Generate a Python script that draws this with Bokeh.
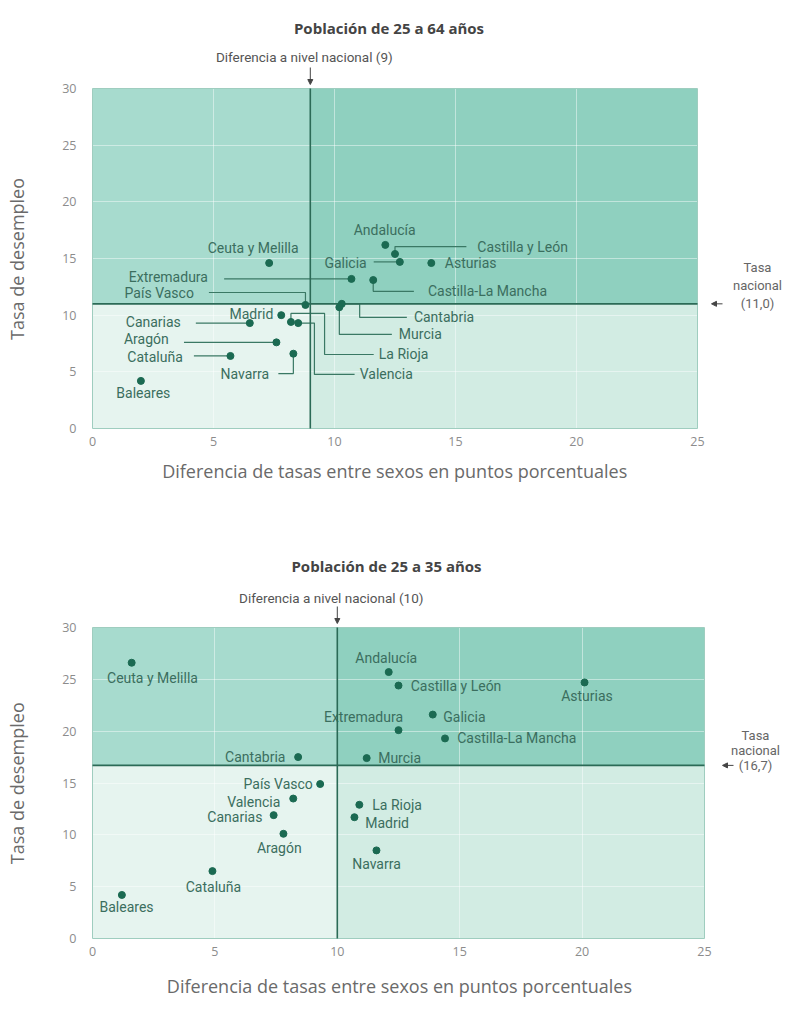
from bokeh.plotting import figure
from bokeh.models import Label, Arrow, NormalHead, ColumnDataSource
from bokeh.layouts import column
from bokeh.embed import file_html
from bokeh.resources import INLINE
from bokeh.core.properties import value

# ---------------- data ----------------
regions = ["Andalucía", "Castilla y León", "Galicia", "Asturias", "Castilla-La Mancha",
           "Extremadura", "Ceuta y Melilla", "País Vasco", "Cantabria", "Murcia",
           "Madrid", "La Rioja", "Valencia", "Canarias", "Aragón", "Cataluña",
           "Navarra", "Baleares"]

# Población de 25 a 64 años
gap_25_64 = [12.1, 12.5, 12.7, 14.0, 11.6, 10.7, 7.3, 8.8, 10.3, 10.2,
             7.8, 8.2, 8.5, 6.5, 7.6, 5.7, 8.3, 2.0]
rate_25_64 = [16.2, 15.4, 14.7, 14.6, 13.1, 13.2, 14.6, 10.9, 11.0, 10.7,
              10.0, 9.4, 9.3, 9.3, 7.6, 6.4, 6.6, 4.2]
nat_gap_25_64 = 9
nat_rate_25_64 = 11.0

# Población de 25 a 35 años
gap_25_35 = [12.1, 12.5, 13.9, 20.1, 14.4, 12.5, 1.6, 9.3, 8.4, 11.2,
             10.7, 10.9, 8.2, 7.4, 7.8, 4.9, 11.6, 1.2]
rate_25_35 = [25.7, 24.4, 21.6, 24.7, 19.3, 20.1, 26.6, 14.9, 17.5, 17.4,
              11.7, 12.9, 13.5, 11.9, 10.1, 6.5, 8.5, 4.2]
nat_gap_25_35 = 10
nat_rate_25_35 = 16.7

titles = ["Población de 25 a 64 años", "Población de 25 a 35 años"]
gap_notes = ["Diferencia a nivel nacional (9)", "Diferencia a nivel nacional (10)"]
rate_notes = [["Tasa", "nacional", "(11,0)"], ["Tasa", "nacional", "(16,7)"]]
x_ticks = [0, 5, 10, 15, 20, 25]
y_ticks = [0, 5, 10, 15, 20, 25, 30]
x_label = "Diferencia de tasas entre sexos en puntos porcentuales"
y_label = "Tasa de desempleo"

# ---------------- label layout (data units; None = same as the point) ----------------
layout_25_64 = {
    "Andalucía": (12.07, 17.5, "center", []),
    "Castilla y León": (15.9, 16.05, "left", [(None, 16.05), (15.45, 16.05)]),
    "Galicia": (11.33, 14.6, "right", [(11.62, None)]),
    "Asturias": (14.56, 14.6, "left", []),
    "Castilla-La Mancha": (13.86, 12.1, "left", [(None, 12.1), (13.28, 12.1)]),
    "Extremadura": (4.77, 13.4, "right", [(5.44, None)]),
    "Ceuta y Melilla": (6.64, 15.9, "center", []),
    "País Vasco": (4.19, 11.95, "right", [(None, 12.0), (4.81, 12.0)]),
    "Cantabria": (13.28, 9.8, "left", [(11.04, None), (11.04, 9.8), (12.99, 9.8)]),
    "Murcia": (12.66, 8.3, "left", [(None, 8.3), (12.37, 8.3)]),
    "Madrid": (7.47, 10.06, "right", []),
    "La Rioja": (11.83, 6.53, "left", [(None, 10.15), (9.59, 10.15), (9.59, 6.53), (11.62, 6.53)]),
    "Valencia": (11.04, 4.77, "left", [(9.17, None), (9.17, 4.77), (10.83, 4.77)]),
    "Canarias": (3.65, 9.36, "right", [(4.27, None)]),
    "Aragón": (3.15, 7.86, "right", [(3.78, None)]),
    "Cataluña": (3.73, 6.27, "right", [(4.19, None)]),
    "Navarra": (7.3, 4.85, "right", [(None, 4.85), (7.68, 4.85)]),
    "Baleares": (2.1, 3.1, "center", []),
}
layout_25_35 = {
    "Andalucía": (12.0, 27.1, "center", []),
    "Castilla y León": (13.0, 24.4, "left", []),
    "Galicia": (14.33, 21.4, "left", []),
    "Asturias": (20.2, 23.4, "center", []),
    "Castilla-La Mancha": (14.9, 19.3, "left", []),
    "Extremadura": (11.07, 21.4, "center", []),
    "Ceuta y Melilla": (2.45, 25.1, "center", []),
    "País Vasco": (9.0, 14.9, "right", []),
    "Cantabria": (7.88, 17.55, "right", []),
    "Murcia": (11.67, 17.4, "left", []),
    "Madrid": (11.14, 11.1, "left", []),
    "La Rioja": (11.43, 12.9, "left", []),
    "Valencia": (7.67, 13.2, "right", []),
    "Canarias": (6.94, 11.7, "right", []),
    "Aragón": (7.63, 8.7, "center", []),
    "Cataluña": (4.94, 5.0, "center", []),
    "Navarra": (11.6, 7.2, "center", []),
    "Baleares": (1.39, 3.0, "center", []),
}

FONT = "Open Sans"
LBL_FONT = "Roboto"
Q_COLORS = ["#a7dbce", "#8fd0bf", "#e6f4ef", "#d2ece3"]  # TL, TR, BL, BR
LINE = "#2b6a56"
DOT = "#1b6a52"
TXT = "#3b6e5e"
W = 790
B_LEFT = 92
AXIS_PX = 18
NBSP_W = 0.26 * AXIS_PX   # advance of a no-break space in Open Sans


def centred(text, shift_px):
    # pad with no-break spaces so the visible text is centred on the plot box
    n = int(round(2 * shift_px / NBSP_W))
    return text + "\u00a0" * n


def make_chart(title, gaps, rates, nat_gap, nat_rate, gap_note, rate_note, layout,
               height, box_w, box_top, box_h, xlab_standoff, offs):
    xmin, xmax = x_ticks[0], x_ticks[-1]
    ymin, ymax = y_ticks[0], y_ticks[-1]
    fw = W - B_LEFT
    fh = box_top + box_h
    ppx = box_w / (xmax - xmin)
    ppy = box_h / (ymax - ymin)
    p = figure(width=W, height=height,
               x_range=(xmin, xmin + fw / ppx), y_range=(ymin, ymin + fh / ppy),
               output_backend="svg", toolbar_location=None,
               min_border_left=B_LEFT, min_border_right=0,
               min_border_top=0, min_border_bottom=height - fh,
               background_fill_color="white", border_fill_color="white")
    p.outline_line_color = None

    # quadrants
    p.quad(left=[xmin, nat_gap, xmin, nat_gap], right=[nat_gap, xmax, nat_gap, xmax],
           bottom=[nat_rate, nat_rate, ymin, ymin], top=[ymax, ymax, nat_rate, nat_rate],
           fill_color=Q_COLORS, line_color=None, level="underlay")

    # axes / grid
    p.xaxis.ticker = x_ticks
    p.yaxis.ticker = y_ticks
    p.xaxis.bounds = (xmin, xmax)
    p.yaxis.bounds = (ymin, ymax)
    p.xgrid.ticker = x_ticks
    p.ygrid.ticker = y_ticks
    p.grid.grid_line_color = "white"
    p.grid.grid_line_alpha = 0.45
    p.grid.level = "glyph"
    for ax in (p.xaxis, p.yaxis):
        ax.axis_line_color = None
        ax.major_tick_line_color = None
        ax.minor_tick_line_color = None
        ax.major_label_text_font = FONT
        ax.major_label_text_font_size = "12.5px"
        ax.major_label_text_color = "#8c8c8c"
        ax.axis_label_text_font = FONT
        ax.axis_label_text_font_size = f"{AXIS_PX}px"
        ax.axis_label_text_font_style = "normal"
        ax.axis_label_text_color = "#6a6a6a"
    p.xaxis.axis_label = centred(x_label, (fw - box_w) / 2)
    p.yaxis.axis_label = centred(y_label, box_top / 2)
    p.xaxis.major_label_standoff = 2
    p.xaxis.axis_label_standoff = xlab_standoff
    p.yaxis.major_label_standoff = 10
    p.yaxis.axis_label_standoff = 30

    # box outline
    p.quad(left=[xmin], right=[xmax], bottom=[ymin], top=[ymax],
           fill_color=None, line_color="#9fcdbf", line_width=1, level="annotation")

    # leader lines + labels
    xs, ys = [], []
    lx, ly, al, names = [], [], [], []
    for name, gx, ry in zip(regions, gaps, rates):
        tx, ty, a, route = layout[name]
        lx.append(tx); ly.append(ty); al.append(a); names.append(name)
        if route:
            px = [gx] + [gx if rx is None else rx for rx, _ in route]
            py = [ry] + [ry if rr is None else rr for _, rr in route]
            xs.append(px); ys.append(py)
    if xs:
        p.multi_line(xs, ys, line_color="#3a7864", line_width=1.2, level="annotation")

    src = ColumnDataSource(dict(x=lx, y=ly, t=names, a=al))
    p.text(x="x", y="y", text="t", text_align="a", source=src,
           text_baseline="middle", text_font=value(LBL_FONT),
           text_font_size="14px", text_color=TXT, level="annotation")

    # national reference lines
    p.segment(x0=[nat_gap, xmin], y0=[ymin, nat_rate], x1=[nat_gap, xmax], y1=[ymax, nat_rate],
              line_color=LINE, line_width=1.6, level="annotation")

    p.scatter(gaps, rates, size=7, fill_color=DOT, line_color=DOT, level="annotation")

    # title
    p.add_layout(Label(x=(xmin + xmax) / 2 + offs["title_dx"] / ppx, y=ymax + offs["title"] / ppy,
                       text=title, text_align="center", text_baseline="middle", text_font=FONT,
                       text_font_style="bold", text_font_size="15px", text_color="#444444"))
    # national gap note + arrow
    p.add_layout(Label(x=nat_gap + offs["note_dx"] / ppx, y=ymax + offs["note"] / ppy,
                       text=gap_note, text_align="center", text_baseline="middle",
                       text_font=LBL_FONT, text_font_size="13.5px", text_color="#555555"))
    p.add_layout(Arrow(end=NormalHead(size=5, fill_color="#444444", line_color="#444444"),
                       x_start=nat_gap, y_start=ymax + 21 / ppy,
                       x_end=nat_gap, y_end=ymax + 4 / ppy,
                       line_color="#444444", line_width=1))
    # national rate note + arrow
    for i, line in enumerate(reversed(rate_note)):
        p.add_layout(Label(x=xmax + offs["rx"] / ppx, y=nat_rate + (i * offs["rstep"]) / ppy,
                           text=line, text_align="center", text_baseline="middle",
                           text_font=LBL_FONT, text_font_size="13px", text_color="#666666"))
    p.add_layout(Arrow(end=NormalHead(size=5, fill_color="#444444", line_color="#444444"),
                       x_start=xmax + offs["a0"] / ppx, y_start=nat_rate,
                       x_end=xmax + offs["a1"] / ppx, y_end=nat_rate,
                       line_color="#444444", line_width=1))
    return p


p1 = make_chart(titles[0], gap_25_64, rate_25_64, nat_gap_25_64, nat_rate_25_64,
                gap_notes[0], rate_notes[0], layout_25_64,
                height=520, box_w=605, box_top=88, box_h=340, xlab_standoff=10,
                offs=dict(title=61, title_dx=-6, note=32, note_dx=-6, rx=60, rstep=18, a0=25, a1=14))
p2 = make_chart(titles[1], gap_25_35, rate_25_35, nat_gap_25_35, nat_rate_25_35,
                gap_notes[1], rate_notes[1], layout_25_35,
                height=500, box_w=612, box_top=107, box_h=311, xlab_standoff=15,
                offs=dict(title=62, title_dx=-12, note=30, note_dx=-6, rx=51, rstep=15, a0=29, a1=18))

layout = column(p1, p2)
open("out.html", "w").write(file_html(layout, INLINE))
